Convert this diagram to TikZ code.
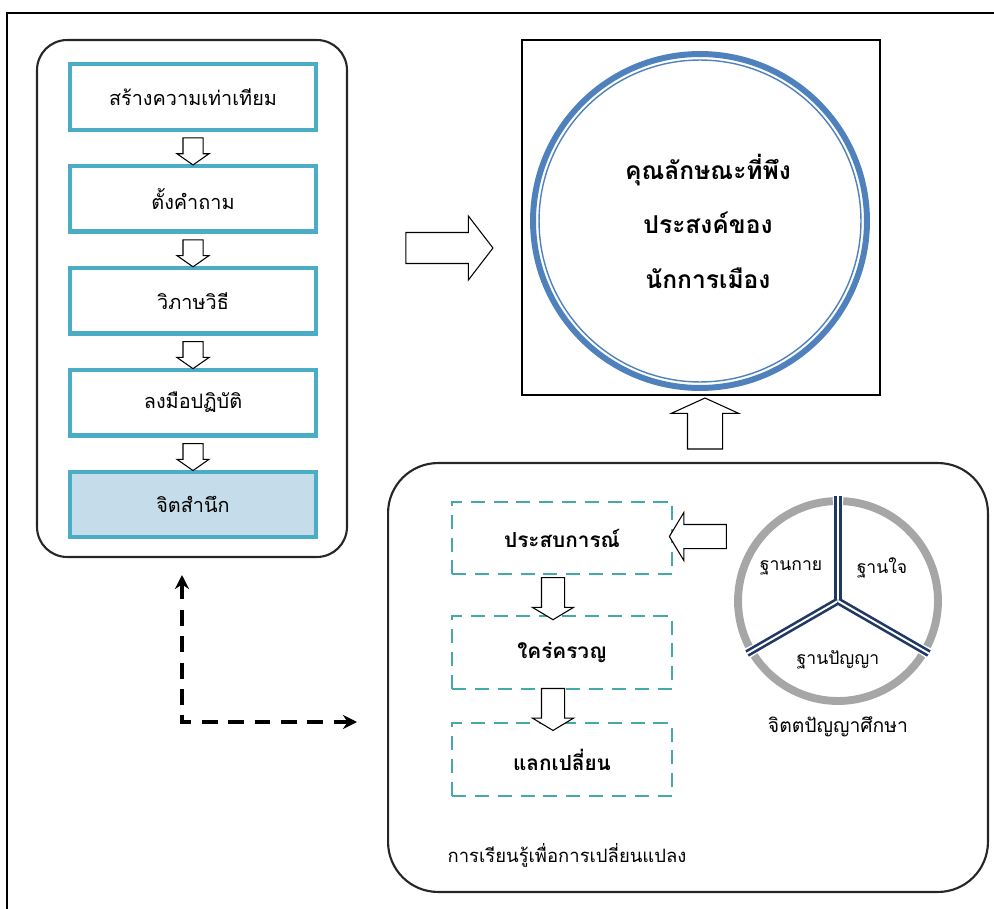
\documentclass[tikz,border=0pt]{standalone}
\usepackage{fontspec}
\setmainfont[Script=Thai]{Loma}
\usepackage{tikz}
\usetikzlibrary{shapes,arrows,positioning,calc,arrows.meta}

\definecolor{boxteal}{HTML}{4BACC6}
\definecolor{boxfill}{HTML}{C5DDEA}
\definecolor{ringblue}{HTML}{4F81BD}
\definecolor{dashteal}{HTML}{45A9A8}
\definecolor{spokenavy}{HTML}{203864}
\definecolor{wheelgray}{HTML}{A6A6A6}

\tikzset{
  panel/.style={draw=black!85, line width=1.2pt},
  stepbox/.style={draw=boxteal, line width=2.5pt, fill=white, minimum width=4.91cm, minimum height=1.31cm, font=\fontsize{11.3}{14}\selectfont},
  learnbox/.style={draw=dashteal, line width=1.1pt, dash pattern=on 8pt off 5pt, minimum width=4.4cm, minimum height=1.45cm, font=\bfseries\fontsize{11.8}{15}\selectfont},
  hollow/.style={single arrow, draw, fill=white, line width=0.6pt, inner xsep=0pt, single arrow head indent=0pt},
  smallarrow/.style={hollow, minimum height=0.54cm, inner ysep=0.19cm, single arrow head extend=0.12cm, single arrow tip angle=110},
  midarrow/.style={hollow, minimum height=0.84cm, inner ysep=0.22cm, single arrow head extend=0.18cm, single arrow tip angle=118},
  spoke/.style={draw=spokenavy, line width=1.5pt, double=white, double distance=1.1pt},
  wheelarc/.style={wheelgray, line width=4.5pt},
  dasharrow/.style={line width=2pt, dash pattern=on 9pt off 6pt, {Stealth[length=8pt,width=8pt]}-{Stealth[length=8pt,width=8pt]}}
}

\begin{document}
\begin{tikzpicture}[x=0.02cm, y=-0.02cm]
        \useasboundingbox (0,0) rectangle (994,909);
        \draw[line width=1.2pt] (7,909) -- (7,13) -- (994,13); % outer frame

        % left panel
        \node[panel, rounded corners=0.6cm, minimum width=6.2cm, minimum height=10.34cm] (leftpanel) at (192,298.5) {};
        \node[stepbox] (s1) at (193,97) {สร้างความเท่าเทียม};
        \node[stepbox, below=0.64cm of s1] (s2) {ตั้งคำถาม};
        \node[stepbox, below=0.64cm of s2] (s3) {วิภาษวิธี};
        \node[stepbox, below=0.64cm of s3] (s4) {ลงมือปฏิบัติ};
        \node[stepbox, fill=boxfill, below=0.64cm of s4] (s5) {จิตสำนึก};
        \foreach \a/\b in {s1/s2, s2/s3, s3/s4, s4/s5}
          \node[smallarrow, rotate=-90] (\a\b) at ($(\a.south)!0.5!(\b.north)$) {};

        % goal
        \node[draw, line width=1.2pt, minimum width=7.16cm, minimum height=7.1cm] (goalbox) at (701,217.5) {};
        \node[circle, draw=ringblue, line width=3.4pt, minimum size=6.68cm] (goal) at (700,221) {};
        \draw[ringblue, line width=0.8pt] (goal.center) circle (3.22cm);
        \node[font=\bfseries\fontsize{14}{31}\selectfont, align=center] (goaltext) at (708,221)
          {คุณลักษณะที่พึง\\ประสงค์ของ\\นักการเมือง};
        \node[hollow, minimum height=1.74cm, inner ysep=0.3cm, single arrow head extend=0.33cm, single arrow tip angle=105] (toright) at (443.5,248) {};

        % bottom panel
        \node[panel, rounded corners=1cm, minimum width=12cm, minimum height=8.58cm] (botpanel) at (688,677.5) {};
        \node[hollow, rotate=90, minimum height=1.02cm, inner ysep=0.34cm, single arrow head extend=0.32cm, single arrow tip angle=131] (toup) at (705,427.5) {};
        \node[learnbox] (e1) at (562,538) {ประสบการณ์};
        \node[learnbox] (e2) at (562,652.5) {ใคร่ครวญ};
        \node[learnbox] (e3) at (562,759.5) {แลกเปลี่ยน};
        \node[midarrow, rotate=-90] (e1e2) at ($(e1.south)!0.5!(e2.north)+(-9,0)$) {};
        \node[midarrow, rotate=-90] (e2e3) at ($(e2.south)!0.5!(e3.north)+(-9,0)$) {};
        \node[hollow, rotate=180, minimum height=1.14cm, inner ysep=0.23cm, single arrow head extend=0.24cm, single arrow tip angle=118] (toleft) at (701.5,536.5) {};
        \node[font=\fontsize{10.5}{12}\selectfont] (learntitle) at (567,855) {การเรียนรู้เพื่อการเปลี่ยนแปลง};

        % wheel
        \coordinate (hub) at (838,601);
        \foreach \s in {90,210,330}
          \draw[wheelarc] ($(hub)+(\s+3:2cm)$) arc[start angle=\s+3, end angle=\s+117, radius=2cm];
        \foreach \s in {90,210,330}
          \draw[spoke] (hub) -- ++(\s:2.1cm);
        \node[font=\fontsize{10}{12}\selectfont] (body) at (791,568) {ฐานกาย};
        \node[font=\fontsize{10}{12}\selectfont] (heart) at (882,568) {ฐานใจ};
        \node[font=\fontsize{10}{12}\selectfont] (head) at (838,660) {ฐานปัญญา};
        \node[font=\fontsize{11}{13}\selectfont] (wheeltitle) at (838,727) {จิตตปัญญาศึกษา};

        % link
        \coordinate (uptip) at (182,575);
        \coordinate (righttip) at (357,722);
        \draw[dasharrow] (uptip) |- (righttip);
    \end{tikzpicture}
\end{document}
